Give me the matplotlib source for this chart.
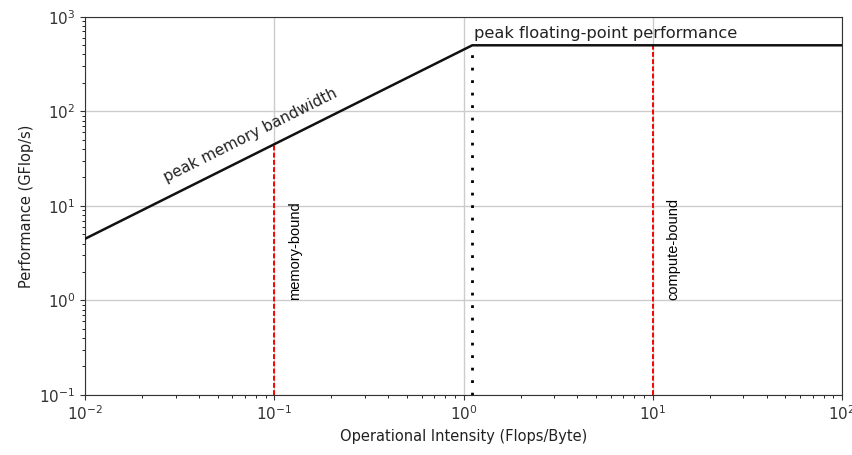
import numpy as np
import matplotlib.pyplot as plt

# roofline parameters
peak_bw = 450.0        # GFlop/s per Flop/Byte (slope line)
peak_flops = 500.0     # GFlop/s
x_range = [1e-2, 1e2]
y_range = [1e-1, 1e3]
ridge = peak_flops / peak_bw

mem_bound_x = 0.1
comp_bound_x = 10.0

fig, ax = plt.subplots(figsize=(8.53, 4.55), dpi=100)
fig.subplots_adjust(left=0.1, right=0.987, top=0.963, bottom=0.132)

xs = np.array([x_range[0], ridge, x_range[1]])
ys = np.minimum(peak_bw * xs, peak_flops)
ax.plot(xs, ys, color="#111111", lw=1.8, zorder=3)

ax.plot([ridge, ridge], [y_range[0], peak_flops], color="black", ls=(0, (1, 3.5)), lw=2)
ax.plot([mem_bound_x, mem_bound_x], [y_range[0], peak_bw * mem_bound_x],
        color="red", ls=(0, (2.5, 1.2)), lw=1.4)
ax.plot([comp_bound_x, comp_bound_x], [y_range[0], peak_flops],
        color="red", ls=(0, (2.5, 1.2)), lw=1.4)

ax.set_xscale("log")
ax.set_yscale("log")
ax.set_xlim(x_range)
ax.set_ylim(y_range)
ax.grid(True, which="major", color="#cccccc", lw=1)
ax.set_axisbelow(True)

txt = "#222222"
ax.text(0.0745, 56, "peak memory bandwidth", rotation=26.6, rotation_mode="anchor",
        ha="center", va="center", fontsize=11, color=txt)
ax.text(1.13, 560, "peak floating-point performance", ha="left", va="bottom",
        fontsize=11.7, color=txt)
ax.text(0.118, 1.0, "memory-bound", rotation=90, ha="left", va="bottom", fontsize=10.5,
        family="Liberation Sans", color="black")
ax.text(11.8, 1.0, "compute-bound", rotation=90, ha="left", va="bottom", fontsize=10.5,
        family="Liberation Sans", color="black")

ax.set_xlabel("Operational Intensity (Flops/Byte)", fontsize=10.5, color=txt)
ax.set_ylabel("Performance (GFlop/s)", fontsize=10.5, color=txt)
ax.tick_params(labelsize=11, labelcolor="#333333", color="#333333")
for s in ax.spines.values():
    s.set_color("#333333")

plt.savefig("out.png", dpi=100)
